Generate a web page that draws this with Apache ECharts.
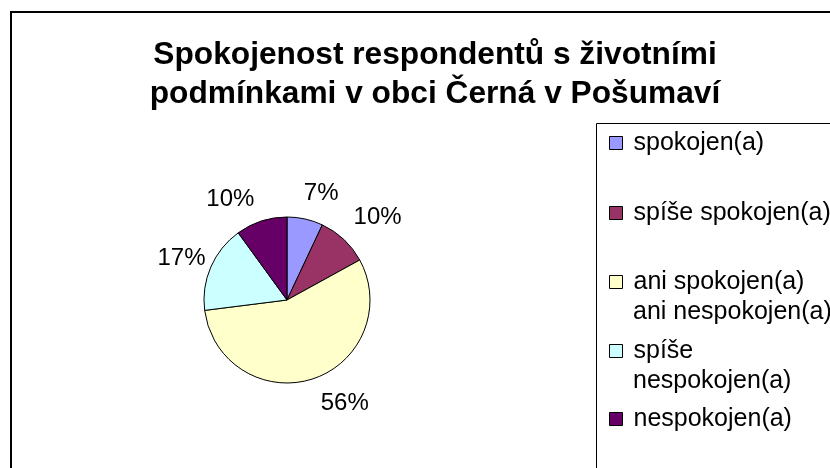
<!DOCTYPE html>
<html>
<head>
<meta charset="utf-8">
<script src="https://cdn.jsdelivr.net/npm/echarts@6/dist/echarts.min.js"></script>
<style>
html,body{margin:0;padding:0;background:#fff;}
#c{width:830px;height:468px;}
</style>
</head>
<body>
<div id="c"></div>
<script>
const titleLines = ['Spokojenost respondentů s životními', 'podmínkami v obci Černá v Pošumaví'];
const categories = ['spokojen(a)', 'spíše spokojen(a)', 'ani spokojen(a) ani nespokojen(a)', 'spíše nespokojen(a)', 'nespokojen(a)'];
const legendLine1 = ['spokojen(a)', 'spíše spokojen(a)', 'ani spokojen(a)', 'spíše', 'nespokojen(a)'];
const legendLine2 = ['', '', 'ani nespokojen(a)', 'nespokojen(a)', ''];
const values = [7, 10, 56, 17, 10];
const colors = ['#9999FF', '#993366', '#FFFFCC', '#CCFFFF', '#660066'];

const FONT = '"Liberation Sans", Arial, sans-serif';
const legendCenters = [143, 213, 282, 351, 419];
const lineGap = 30;

const chart = echarts.init(document.getElementById('c'), null, {renderer: 'canvas'});

const legends = categories.map((name, i) => ({
  data: [name],
  left: 609,
  top: legendCenters[i] - 15,
  padding: 0,
  icon: 'rect',
  itemWidth: 13,
  itemHeight: 13,
  itemStyle: {borderColor: '#000', borderWidth: 1},
  selectedMode: false,
  formatter: () => legendLine1[i],
  textStyle: {fontFamily: FONT, fontSize: 25, lineHeight: 30, color: '#000', padding: [0, 0, 0, 6]}
}));

const graphics = [
  {type: 'rect', shape: {x: 11, y: 12, width: 900, height: 500}, style: {fill: 'none', stroke: '#000', lineWidth: 2}, silent: true, z: 0},
  {type: 'rect', shape: {x: 596.5, y: 123.5, width: 400, height: 400}, style: {fill: 'none', stroke: '#000', lineWidth: 1}, silent: true, z: 0}
];
legendLine2.forEach((t, i) => {
  if (t) {
    graphics.push({
      type: 'text', x: 633, y: legendCenters[i] + lineGap,
      style: {text: t, fontFamily: FONT, fontSize: 25, fill: '#000', verticalAlign: 'middle', align: 'left'},
      silent: true
    });
  }
});

const labelLen = [26, 26, 26, 8, 26];
const labelNudge = [[-7, 0], [-8, -3], [0, 0], [2, -5], [1, 3]];

chart.setOption({
  backgroundColor: '#fff',
  animation: false,
  title: {
    text: titleLines.join('\n'),
    left: 430,
    top: 31,
    textAlign: 'center',
    textStyle: {fontFamily: FONT, fontSize: 31.7, fontWeight: 'bold', color: '#000', lineHeight: 39}
  },
  legend: legends,
  graphic: graphics,
  series: [{
    type: 'pie',
    center: [287, 300],
    radius: 83,
    startAngle: 90,
    clockwise: true,
    avoidLabelOverlap: false,
    itemStyle: {borderColor: '#000', borderWidth: 1},
    label: {
      show: true,
      position: 'outside',
      formatter: '{d}%',
      fontFamily: FONT,
      fontSize: 24,
      color: '#000',
      distanceToLabelLine: 0
    },
    labelLine: {show: false, length2: 0},
    emphasis: {disabled: true},
    data: categories.map((name, i) => ({
      name: name,
      value: values[i],
      itemStyle: {color: colors[i]},
      label: {offset: labelNudge[i]},
      labelLine: {show: false, length: labelLen[i], length2: 0}
    }))
  }]
});
</script>
</body>
</html>
